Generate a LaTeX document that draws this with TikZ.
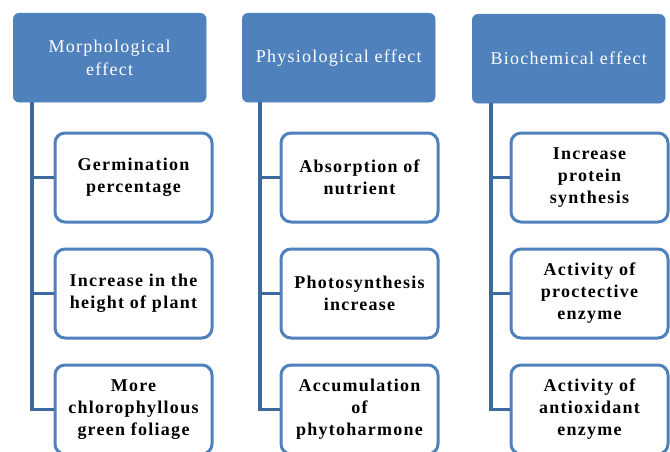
\documentclass[tikz,border=0pt]{standalone}
\usepackage{fontspec}
\setmainfont{Liberation Serif}
\newfontfamily\spacedfont[LetterSpace=7]{Liberation Serif}
\usetikzlibrary{positioning}
\definecolor{headblue}{HTML}{4F81BD}
\definecolor{trunkblue}{HTML}{3D6A9E}
\tikzset{
	x=1pt, y=-1pt,
	node distance=24pt, % gap between two items of a column
	head/.style={draw=headblue, fill=headblue, rounded corners=6pt, minimum width=193pt, minimum height=89pt, text=white, align=center, inner sep=0pt, font=\spacedfont\fontsize{18}{23}\selectfont}, % top boxes
	item/.style={draw=headblue, line width=3pt, fill=white, rounded corners=10pt, minimum width=157pt, minimum height=89pt, align=center, inner sep=0pt, font=\spacedfont\bfseries\fontsize{18}{22}\selectfont}, % boxes below
	trunk/.style={draw=trunkblue, line width=3.5pt}, % connector lines
}
\begin{document}
\begin{tikzpicture}
	\clip (0,0) rectangle (670,452);
	\useasboundingbox (0,0) rectangle (670,452);
	% headers
	\node[head,anchor=north west] (morph) at (13,13) {Morphological\\effect};
	\node[head,anchor=north west] (phys) at (242,13) {Physiological effect};
	\node[head,anchor=north west] (bio) at (472,14) {Biochemical effect};
	% morphological column
	\node[item,anchor=north west] (morph1) at (53.5,131.5) {Germination\\percentage};
	\node[item,below=of morph1] (morph2) {Increase in the\\height of plant};
	\node[item,below=of morph2] (morph3) {More\\chlorophyllous\\green foliage};
	% physiological column
	\node[item,anchor=north west] (phys1) at (279.5,131.5) {Absorption of\\nutrient};
	\node[item,below=of phys1] (phys2) {Photosynthesis\\increase};
	\node[item,below=of phys2] (phys3) {Accumulation\\of\\phytoharmone};
	% biochemical column
	\node[item,anchor=north west] (bio1) at (509.5,131.5) {Increase\\protein\\synthesis};
	\node[item,below=of bio1] (bio2) {Activity of\\proctective\\enzyme};
	\node[item,below=of bio2] (bio3) {Activity of\\antioxidant\\enzyme};
	% connectors
	\coordinate[xshift=19pt] (morphT) at (morph.south west);
	\coordinate[xshift=18pt] (physT) at (phys.south west);
	\coordinate[xshift=19pt] (bioT) at (bio.south west);
	\draw[trunk] (morphT) |- (morph3.west);
	\draw[trunk] (morph1.west) -- (morph1.west -| morphT);
	\draw[trunk] (morph2.west) -- (morph2.west -| morphT);
	\draw[trunk] (physT) |- (phys3.west);
	\draw[trunk] (phys1.west) -- (phys1.west -| physT);
	\draw[trunk] (phys2.west) -- (phys2.west -| physT);
	\draw[trunk] (bioT) |- (bio3.west);
	\draw[trunk] (bio1.west) -- (bio1.west -| bioT);
	\draw[trunk] (bio2.west) -- (bio2.west -| bioT);
\end{tikzpicture}
\end{document}
